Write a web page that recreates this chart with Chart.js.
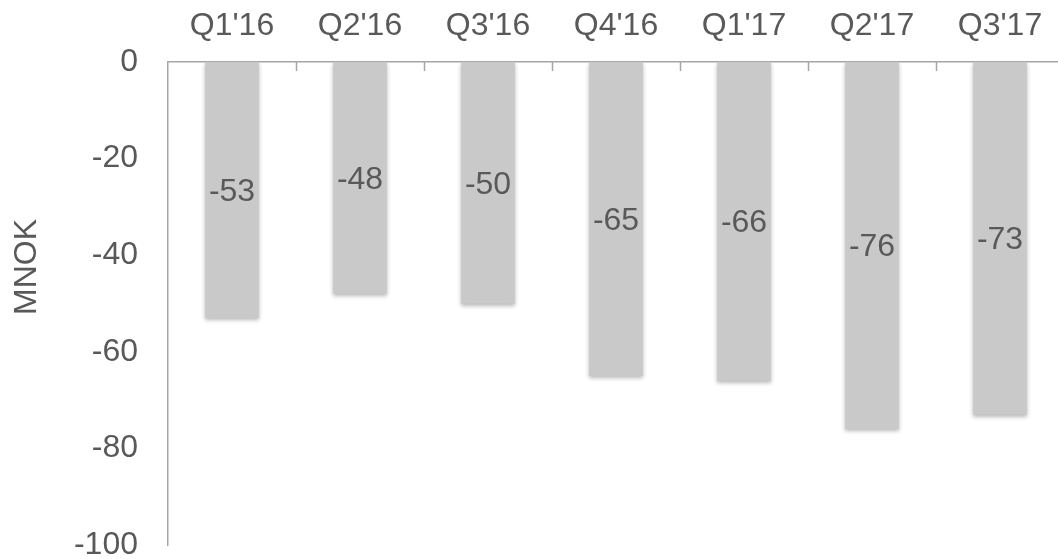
<!DOCTYPE html>
<html>
<head>
<meta charset="utf-8">
<script src="https://cdn.jsdelivr.net/npm/chart.js@4/dist/chart.umd.min.js"></script>
<style>
  html, body { margin: 0; padding: 0; background: #fff; overflow: hidden; }
  #wrap { width: 1064px; height: 559px; }
</style>
</head>
<body>
<div id="wrap"><canvas id="bar-chart"></canvas></div>
<script>
// 분기 라벨과 값 (MNOK)
const quarters = ["Q1'16", "Q2'16", "Q3'16", "Q4'16", "Q1'17", "Q2'17", "Q3'17"];
const values = [-53, -48, -50, -65, -66, -76, -73];
const yTicks = [0, -20, -40, -60, -80, -100];
const axisTitle = 'MNOK';

const textColor = '#595959';
const lineColor = '#a6a6a6';
const fontFamily = "'Liberation Sans', Arial, sans-serif";
const fontSize = 32;

// 막대 아래 그림자
const shadowPlugin = {
    id: 'barShadow',
    beforeDatasetDraw(chart) {
        const ctx = chart.ctx;
        ctx.save();
        ctx.shadowColor = 'rgba(0,0,0,0.28)';
        ctx.shadowBlur = 4;
        ctx.shadowOffsetY = 2;
    },
    afterDatasetDraw(chart) {
        chart.ctx.restore();
    }
};

// 막대 안쪽 값 라벨, 위쪽 축의 안쪽 눈금, 세로 축 제목
const labelPlugin = {
    id: 'barLabels',
    afterDatasetsDraw(chart) {
        const ctx = chart.ctx;
        const meta = chart.getDatasetMeta(0);
        ctx.save();
        ctx.font = fontSize + 'px ' + fontFamily;
        ctx.fillStyle = textColor;
        ctx.textAlign = 'center';
        ctx.textBaseline = 'middle';
        meta.data.forEach((bar, i) => {
            ctx.fillText(String(values[i]), bar.x, (bar.y + bar.base) / 2 + 2);
        });
        ctx.restore();
    },
    afterDraw(chart) {
        const ctx = chart.ctx;
        const x = chart.scales.x;
        const area = chart.chartArea;
        ctx.save();
        ctx.strokeStyle = lineColor;
        ctx.lineWidth = 1.5;
        for (let i = 1; i < quarters.length; i++) {
            const px = Math.round((x.getPixelForValue(i - 1) + x.getPixelForValue(i)) / 2) + 0.5;
            ctx.beginPath();
            ctx.moveTo(px, area.top);
            ctx.lineTo(px, area.top + 9);
            ctx.stroke();
        }
        // 축 제목
        ctx.font = fontSize + 'px ' + fontFamily;
        ctx.fillStyle = textColor;
        ctx.textAlign = 'center';
        ctx.textBaseline = 'middle';
        ctx.translate(27, 267);
        ctx.rotate(-Math.PI / 2);
        ctx.fillText(axisTitle, 0, 0);
        ctx.restore();
    }
};

const ctx = document.getElementById('bar-chart').getContext('2d');
const myChart = new Chart(ctx, {
    type: 'bar',
    data: {
        labels: quarters,
        datasets: [{
            data: values,
            backgroundColor: '#c9c9c9',
            borderWidth: 0,
            barPercentage: 0.42,
            categoryPercentage: 1.0
        }]
    },
    options: {
        responsive: true,
        maintainAspectRatio: false,
        animation: false,
        layout: { padding: { left: 0, top: 0, right: 0, bottom: 14 } },
        plugins: {
            legend: { display: false },
            tooltip: { enabled: false }
        },
        scales: {
            x: {
                position: 'top',
                grid: { drawOnChartArea: false, drawTicks: false },
                border: { display: true, color: lineColor, width: 1.5 },
                ticks: {
                    color: textColor,
                    font: { family: fontFamily, size: fontSize, lineHeight: 1.2 },
                    padding: 17,
                    maxRotation: 0
                },
                afterFit(scale) {
                    scale.height = 62;
                    scale.paddingLeft = 0;
                    scale.paddingRight = 0;
                }
            },
            y: {
                min: -100,
                max: 0,
                afterBuildTicks(scale) {
                    scale.ticks = yTicks.map(v => ({ value: v }));
                },
                grid: { display: false, drawTicks: false },
                border: { display: true, color: lineColor, width: 1.5 },
                ticks: {
                    color: textColor,
                    font: { family: fontFamily, size: fontSize, lineHeight: 1.0 },
                    padding: 30
                },
                afterFit(scale) {
                    scale.width = 168;
                    scale.paddingTop = 0;
                    scale.paddingBottom = 0;
                }
            }
        }
    },
    plugins: [shadowPlugin, labelPlugin]
});
</script>
</body>
</html>
